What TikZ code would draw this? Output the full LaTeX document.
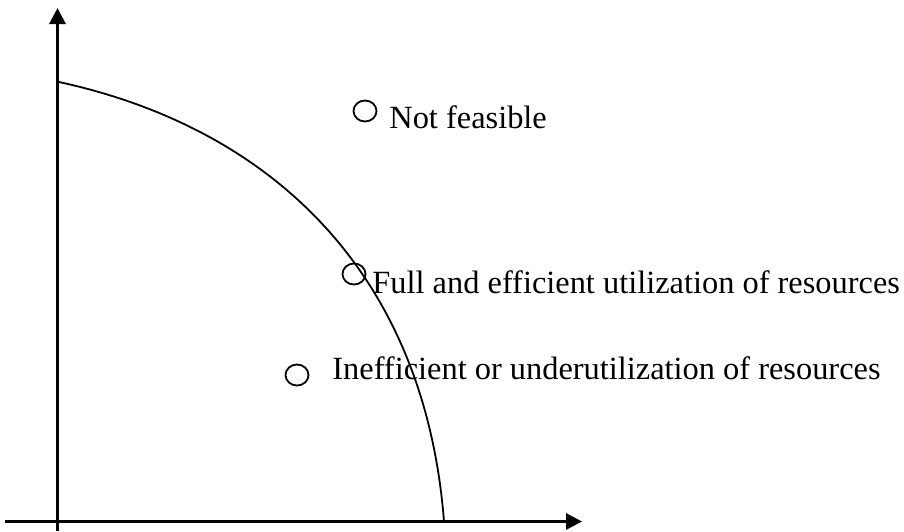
\documentclass[tikz,border=0pt]{standalone}
\usepackage{fontspec}
\setmainfont{Liberation Serif}
\usetikzlibrary{arrows.meta,shapes.geometric}
\begin{document}
\begin{tikzpicture}[x=0.5pt,y=-0.5pt,
  axis/.style={line width=1.5pt,-{Triangle[length=8pt,width=8pt]}},
  ppf/.style={line width=0.9pt},
  pointmark/.style={draw,line width=0.9pt,ellipse,minimum width=11.5pt,minimum height=10.5pt,inner sep=0pt},
  lbl/.style={anchor=base west,inner sep=0pt,font=\fontsize{16.2pt}{19pt}\selectfont}]
\useasboundingbox (0,0) rectangle (904,531);
% axes
\coordinate (ybot) at (57.5,531);
\coordinate (ytop) at (57.5,8);
\coordinate (xleft) at (5,521.5);
\coordinate (xright) at (582,521.5);
\draw[axis] (ybot) -- (ytop);
\draw[axis] (xleft) -- (xright);
% production possibility curve
\coordinate (cstart) at (59,82);
\coordinate (cend) at (444,521.5);
\draw[ppf] (cstart) .. controls (275,129) and (425,276) .. (cend);
% points
\node[pointmark] (p1) at (365,111) {};
\node[pointmark] (p2) at (354,274) {};
\node[pointmark] (p3) at (297,375) {};
% labels
\node[lbl] (t1) at (389,128) {Not feasible};
\node[lbl] (t2) at (372,293) {Full and efficient utilization of resources};
\node[lbl] (t3) at (332,379) {Inefficient or underutilization of resources};
\end{tikzpicture}
\end{document}
